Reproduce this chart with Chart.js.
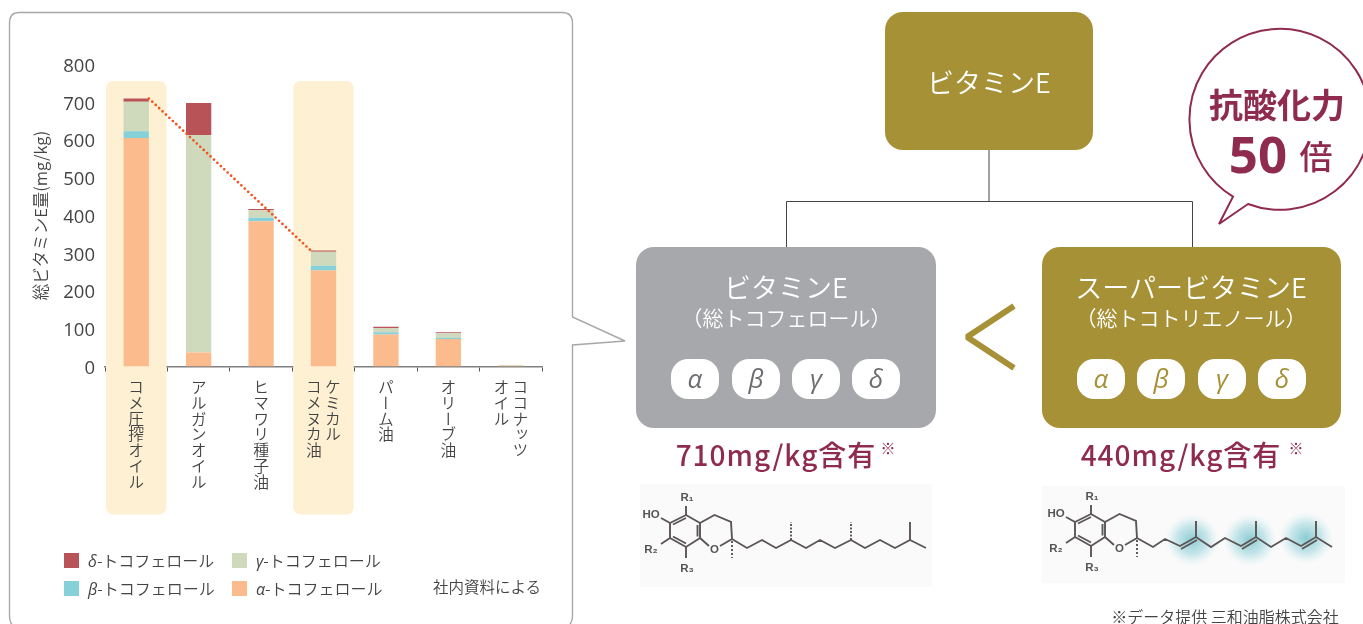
<!DOCTYPE html>
<html lang="ja">
<head>
<meta charset="utf-8">
<title>ビタミンE</title>
<script src="https://cdn.jsdelivr.net/npm/chart.js@4"></script>
<style>
  html, body { margin: 0; padding: 0; background: #fff; }
  #page { position: relative; width: 1363px; height: 624px; overflow: hidden;
          font-family: "Noto Sans CJK JP", "Noto Sans", sans-serif; font-weight: 350; color: #444; }
  #backdrop, #diagram { position: absolute; left: 0; top: 0; }
  #chart { position: absolute; left: 0; top: 0; }
  .t { position: absolute; white-space: nowrap; transform: translate(-50%, -50%); line-height: 1; }
  .box { position: absolute; border-radius: 18px; }
  .gold { background: #a69137; }
  .grey { background: #a7a8ab; }
  .w { color: #fff; }
  .m { color: #8f2b4f; font-weight: 700; }
  .pill { position: absolute; width: 48px; height: 40px; border-radius: 17px; background: #fff;
          transform: translate(-50%, -50%); text-align: center; line-height: 38px;
          font-family: "Open Sans", sans-serif; font-style: italic; font-weight: 400; font-size: 26px; }
  .cat { position: absolute; top: 379px; writing-mode: vertical-rl; transform: translateX(-50%);
         font-size: 15.8px; line-height: 19px; white-space: pre; color: #444; }
  .sw { position: absolute; width: 15px; height: 15px; }
  .lg { position: absolute; font-size: 16px; line-height: 1; white-space: nowrap; color: #444; transform: translateY(-50%); }
  .lg i { font-family: "Open Sans", sans-serif; font-weight: 400; }
</style>
</head>
<body>
<div id="page">
  <svg id="backdrop" width="1363" height="624">
    <!-- chart panel with its pointer towards the vitamin E box -->
    <path d="M19 12.5 H562 Q572.5 12.5 572.5 23 V317 L625 341 L572.5 345 V616 Q572.5 628 560 628 H21 Q9.5 628 9.5 616 V23 Q9.5 12.5 19 12.5 Z"
          fill="#fff" stroke="#a8a8a8" stroke-width="1.4"/>
    <!-- family tree connectors -->
    <path d="M989 150 V201.5 M786.5 247 V201.5 H1192.5 V247" fill="none" stroke="#444" stroke-width="1"/>
  </svg>
  <canvas id="chart" width="572" height="624"></canvas>
  <svg id="diagram" width="1363" height="624">
    <defs>
      <filter id="soft" x="-5%" y="-10%" width="110%" height="120%"><feGaussianBlur stdDeviation="0.7"/></filter>
      <radialGradient id="glow">
        <stop offset="0" stop-color="#6fbfc9" stop-opacity=".8"/>
        <stop offset=".55" stop-color="#8fd0d8" stop-opacity=".5"/>
        <stop offset="1" stop-color="#bfe6ea" stop-opacity="0"/>
      </radialGradient>
    </defs>
    <!-- speech bubble -->
    <path d="M1233 196.7 A90.5 90.5 0 1 1 1248 204 L1219 224 Z" fill="#fff" stroke="#8f2b4f" stroke-width="2"/>
    <!-- "less than" chevron -->
    <path d="M1014 306 L967 337 L1014 368" fill="none" stroke="#a69137" stroke-width="6" stroke-linejoin="bevel"/>
    <rect x="640" y="484" width="292" height="103" fill="#fafafa"/>
    <rect x="1042" y="486" width="303" height="97" fill="#fafafa"/>
    <g id="molA" filter="url(#soft)"></g>
    <g id="molB" filter="url(#soft)"></g>
  </svg>

  <div class="box gold" style="left:885px;top:12px;width:208px;height:138px"></div>
  <div class="t w" style="left:989px;top:81px;font-size:27px">ビタミンE</div>

  <div class="box grey" style="left:636px;top:247px;width:300px;height:181px"></div>
  <div class="t w" style="left:786px;top:286px;font-size:27px">ビタミンE</div>
  <div class="t w" style="left:786.5px;top:317px;font-size:21px">（総トコフェロール）</div>

  <div class="box gold" style="left:1042px;top:247px;width:299px;height:181px"></div>
  <div class="t w" style="left:1191px;top:286px;font-size:27px">スーパービタミンE</div>
  <div class="t w" style="left:1191px;top:317px;font-size:21px">（総トコトリエノール）</div>

  <div id="pills"></div>

  <div class="t m" style="left:776px;top:454px;font-size:28px;font-weight:500;letter-spacing:1px">710mg/kg含有</div>
  <div class="t" style="left:888px;top:447px;font-size:15px;color:#8f2b4f">※</div>
  <div class="t m" style="left:1181px;top:454px;font-size:28px;font-weight:500;letter-spacing:1px">440mg/kg含有</div>
  <div class="t" style="left:1296px;top:447px;font-size:15px;color:#8f2b4f">※</div>

  <div class="t m" style="left:1277px;top:104px;font-size:34px">抗酸化力</div>
  <div class="t m" style="left:1258px;top:153px;font-size:51px;font-family:'Noto Sans',sans-serif">50</div>
  <div class="t m" style="left:1316px;top:155px;font-size:33px;font-weight:500">倍</div>

  <div class="t" style="left:487px;top:587px;font-size:15.5px">社内資料による</div>
  <div class="t" style="left:1225px;top:616px;font-size:16px">※データ提供 三和油脂株式会社</div>

  <div id="cats"></div>
  <div id="legend"></div>
</div>

<script>
// Tocopherol content of edible oils, mg/kg
const categories = [
  "コメ圧搾オイル", "アルガンオイル", "ヒマワリ種子油",
  "ケミカル\nコメヌカ油", "パーム油", "オリーブ油", "ココナッツ\nオイル"
];
const alphaToco = [605, 37, 385, 254, 85, 73, 2];
const betaToco  = [18, 0, 9, 13, 6, 3, 0];
const gammaToco = [78, 576, 20, 37, 11, 12, 2];
const deltaToco = [9, 85, 3, 3, 3, 3, 0];
const yTicks = [0, 100, 200, 300, 400, 500, 600, 700, 800];
const greekLetters = ["α", "β", "γ", "δ"];
const seriesSuffix = "-トコフェロール";
const highlighted = [0, 3];           // rice oils get a highlight band
const linkedBars = [0, 3];            // dotted line joins the tops of these bars

const colors = { alpha: "#fbbb8c", beta: "#86d0da", gamma: "#cfdabc", delta: "#b85458" };
const sans = '"Open Sans", sans-serif';

const total = i => alphaToco[i] + betaToco[i] + gammaToco[i] + deltaToco[i];

// Highlight bands behind the bars, and the dotted link drawn over them
const bandPlugin = {
  id: "bands",
  beforeDatasetsDraw(chart) {
    const { ctx, scales: { x } } = chart;
    const half = 30.2;
    ctx.save();
    ctx.fillStyle = "#fef0d2";
    highlighted.forEach(i => {
      const c = x.getPixelForValue(i);
      ctx.beginPath();
      ctx.roundRect(c - half, 81, half * 2, 433.5, 7);
      ctx.fill();
    });
    ctx.restore();
  },
  afterDatasetsDraw(chart) {
    const { ctx, scales: { x, y } } = chart;
    const bar = chart.getDatasetMeta(0).data[0].width / 2;
    ctx.save();
    ctx.strokeStyle = "#f4511e";
    ctx.lineWidth = 2.7;
    ctx.lineCap = "round";
    ctx.setLineDash([0, 4.7]);
    ctx.beginPath();
    ctx.moveTo(x.getPixelForValue(linkedBars[0]) + bar, y.getPixelForValue(total(linkedBars[0])));
    ctx.lineTo(x.getPixelForValue(linkedBars[1]) - bar, y.getPixelForValue(total(linkedBars[1])));
    ctx.stroke();
    ctx.restore();
  }
};

const stackStyle = { barPercentage: 0.405, categoryPercentage: 1, borderWidth: 0 };

const chart = new Chart(document.getElementById("chart"), {
  type: "bar",
  data: {
    labels: categories,
    datasets: [
      { label: "α" + seriesSuffix, data: alphaToco, backgroundColor: colors.alpha, ...stackStyle },
      { label: "β" + seriesSuffix, data: betaToco,  backgroundColor: colors.beta,  ...stackStyle },
      { label: "γ" + seriesSuffix, data: gammaToco, backgroundColor: colors.gamma, ...stackStyle },
      { label: "δ" + seriesSuffix, data: deltaToco, backgroundColor: colors.delta, ...stackStyle }
    ]
  },
  options: {
    responsive: false,
    animation: false,
    layout: { padding: { top: 64.5, right: 30, bottom: 0, left: 0 } },
    plugins: { legend: { display: false }, tooltip: { enabled: false }, title: { display: false } },
    scales: {
      x: {
        stacked: true,
        offset: true,
        afterFit: s => { s.height = 257.5; },
        ticks: { display: false },
        grid: { drawOnChartArea: false, drawTicks: true, tickLength: 5, tickColor: "#555", tickWidth: 1, offset: true },
        border: { display: true, color: "#808080", width: 1.5 }
      },
      y: {
        stacked: true,
        min: 0,
        max: 800,
        afterFit: s => { s.width = 105; },
        afterBuildTicks: s => { s.ticks = yTicks.map(v => ({ value: v })); },
        grid: { display: false, drawTicks: false },
        border: { display: false },
        ticks: { padding: 10, labelOffset: 2, color: "#444",
                 font: { family: sans, size: 18.5, weight: 400 } },
        title: { display: true, text: "総ビタミンE量(mg/kg)", color: "#444", padding: { top: 31, bottom: 0 },
                 font: { family: '"Noto Sans CJK JP", sans-serif', size: 16.5, weight: 350 } }
      }
    }
  },
  plugins: [bandPlugin]
});

// Vertical category labels, placed at the category positions of the x scale
const catHost = document.getElementById("cats");
categories.forEach((name, i) => {
  const el = document.createElement("div");
  el.className = "cat";
  el.textContent = name;
  el.style.left = chart.scales.x.getPixelForValue(i) + "px";
  catHost.appendChild(el);
});

// Two-column legend, top row first
const legendHost = document.getElementById("legend");
[
  ["δ", colors.delta, 64, 560], ["γ", colors.gamma, 232, 560],
  ["β", colors.beta, 64, 588], ["α", colors.alpha, 232, 588]
].forEach(([g, c, lx, ly]) => {
  const sw = document.createElement("div");
  sw.className = "sw";
  sw.style.cssText = `left:${lx}px;top:${ly - 7.5}px;background:${c}`;
  const tx = document.createElement("div");
  tx.className = "lg";
  tx.style.cssText = `left:${lx + 24}px;top:${ly}px`;
  const it = document.createElement("i");
  it.textContent = g;
  tx.appendChild(it);
  tx.appendChild(document.createTextNode(seriesSuffix));
  legendHost.appendChild(sw);
  legendHost.appendChild(tx);
});

// Greek letter pills inside the two comparison boxes
const pillHost = document.getElementById("pills");
[[[695, 756, 816, 876], "#6d6e71"], [[1101, 1161, 1222, 1282], "#a69137"]].forEach(([xs, col]) => {
  xs.forEach((px, i) => {
    const p = document.createElement("div");
    p.className = "pill";
    p.style.cssText = `left:${px}px;top:379px;color:${col}`;
    p.textContent = greekLetters[i];
    pillHost.appendChild(p);
  });
});

// Skeletal formulae: chroman head plus a saturated or unsaturated side chain
function molecule(host, dx, dy, unsaturated) {
  const ns = "http://www.w3.org/2000/svg";
  const ink = "#5c5656";
  const add = (tag, attrs, text) => {
    const el = document.createElementNS(ns, tag);
    Object.entries(attrs).forEach(([k, v]) => el.setAttribute(k, v));
    if (text) el.textContent = text;
    host.appendChild(el);
    return el;
  };
  const line = d => add("path", { d, fill: "none", stroke: ink, "stroke-width": 1.9 });
  const P = (x, y) => `${(x + dx).toFixed(1)} ${(y + dy).toFixed(1)}`;

  if (unsaturated) {
    [[787, 541], [845, 541], [901, 539]].forEach(([gx, gy]) =>
      add("ellipse", { cx: gx + dx, cy: gy + dy, rx: 27, ry: 26, fill: "url(#glow)" }));
  }
  // benzene ring, pyran ring, substituent stubs
  line(`M${P(686, 515)} L${P(670, 523)} L${P(670, 538)} L${P(686, 547)} L${P(700, 538)} L${P(700, 523)} Z`);
  line(`M${P(673, 524.5)} L${P(686, 518)} M${P(673, 536.5)} L${P(686, 543.5)} M${P(697.5, 525)} L${P(697.5, 536.5)}`);
  line(`M${P(700, 523)} L${P(714.5, 515)} L${P(731, 522)} L${P(732, 539)} L${P(720, 546)} M${P(709, 546)} L${P(700, 538)}`);
  line(`M${P(686, 515)} L${P(686, 506)} M${P(670, 523)} L${P(661, 518)} M${P(670, 538)} L${P(661, 544)} M${P(686, 547)} L${P(686, 558)}`);
  add("path", { d: `M${P(732, 541)} V${558 + dy}`, stroke: ink, "stroke-width": 1.9, "stroke-dasharray": "2 2", fill: "none" });

  const labels = [["R₁", 687, 497], ["HO", 651, 514], ["R₂", 651, 549], ["R₃", 687, 568], ["O", 714.5, 549]];
  labels.forEach(([s, lx, ly]) => add("text", {
    x: lx + dx, y: ly + dy + 4, "text-anchor": "middle", "font-size": 11.5, "font-weight": 700,
    "font-family": "Liberation Sans, sans-serif", fill: "#555"
  }, s));

  if (unsaturated) {
    const chain = [[732, 539], [748, 548], [760, 540], [775, 547], [791, 538], [806, 548], [820, 539],
                   [836, 547], [851, 538], [866, 548], [881, 539], [896, 547], [911, 538], [927, 548]];
    line("M" + chain.map(c => P(c[0], c[1])).join(" L"));
    [[775, 547, 791, 538], [836, 547, 851, 538], [896, 547, 911, 538]].forEach(b =>
      line(`M${P(b[0] + 1, b[1] + 3)} L${P(b[2] + 1, b[3] + 3)}`));
    [[791, 538], [851, 538], [911, 538]].forEach(([bx, by]) => line(`M${P(bx, by)} V${522 + dy}`));
  } else {
    const chain = [[732, 539], [747, 548], [762, 540], [776, 548], [791, 540], [806, 548], [820, 540],
                   [835, 548], [851, 540], [865, 548], [880, 540], [895, 548], [910, 540], [926, 548]];
    line("M" + chain.map(c => P(c[0], c[1])).join(" L"));
    [[791, 540], [851, 540]].forEach(([bx, by]) =>
      add("path", { d: `M${P(bx, by)} V${522 + dy}`, stroke: ink, "stroke-width": 1.9, "stroke-dasharray": "2 1.5", fill: "none" }));
    line(`M${P(910, 540)} V${522 + dy}`);
  }
}
molecule(document.getElementById("molA"), 0, 0, false);
molecule(document.getElementById("molB"), 405, -1, true);
</script>
</body>
</html>
